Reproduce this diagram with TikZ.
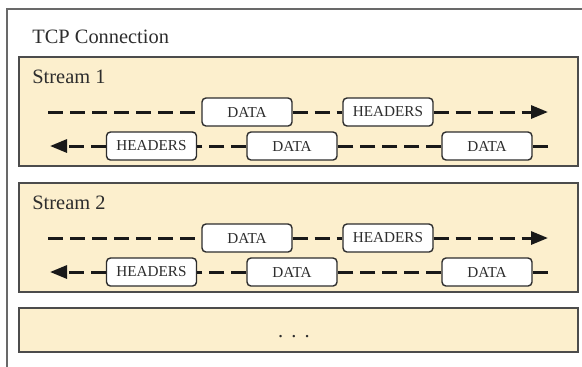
\documentclass[tikz,border=0pt]{standalone}
\usepackage{fontspec}
\setmainfont{Liberation Serif}
\usetikzlibrary{arrows.meta}

\definecolor{streamfill}{RGB}{252,239,205}
\definecolor{framegray}{RGB}{105,105,105}
\definecolor{inkgray}{RGB}{45,45,45}

\tikzstyle{frame}=[draw=framegray,line width=1pt]
\tikzstyle{stream}=[draw=inkgray!85,line width=0.8pt,fill=streamfill,rectangle,minimum width=279.5pt,inner sep=0pt]
\tikzstyle{packet}=[draw=inkgray,line width=0.7pt,fill=white,rounded corners=2pt,minimum width=45pt,minimum height=14pt,inner sep=0pt,font=\fontsize{7.6}{9}\selectfont,text=inkgray]
\tikzstyle{flow}=[draw=black!90,line width=1.5pt,dash pattern=on 7.5pt off 3.5pt]
\tikzstyle{title}=[font=\fontsize{10.2}{12}\selectfont,text=inkgray,anchor=base west,inner sep=0pt]
\tikzstyle{tip}=[-{Triangle[length=8.5pt,width=6.5pt]}]
\newcommand{\pxscale}{0.5pt}

\begin{document}
\begin{tikzpicture}[x=\pxscale, y=-\pxscale]
    \clip (0,0) rectangle (582,366);
    \draw[frame] (7,9) rectangle (600,380);
    \node[title] (conn) at (32,43) {TCP Connection};
    % First we draw the two streams, one below the other
    \foreach \s/\dy in {1/0, 2/126} {
        \node[stream, minimum height=54.5pt] (box\s) at (298.5,111.5+\dy) {};
        \node[title] (lbl\s) at (32,83+\dy) {Stream \s};
        % upper row, left to right
        \coordinate (in\s) at (48,112+\dy);
        \node[packet] (da\s) at (247,112+\dy) {DATA};
        \node[packet] (ha\s) at (388,112+\dy) {HEADERS};
        \coordinate (out\s) at (548,112+\dy);
        % lower row, right to left
        \coordinate (start\s) at (548,146+\dy);
        \node[packet] (dc\s) at (487,146+\dy) {DATA};
        \node[packet] (db\s) at (292,146+\dy) {DATA};
        \node[packet] (hb\s) at (151.5,146+\dy) {HEADERS};
        \coordinate (back\s) at (50,146+\dy);
        % Connect the frames with dashed lines
        \path[flow] (in\s) -- (da\s) (da\s) -- (ha\s);
        \draw[flow, tip] (ha\s) -- (out\s);
        \path[flow] (start\s) -- (dc\s) (dc\s) -- (db\s) (db\s) -- (hb\s);
        \draw[flow, tip] (hb\s) -- (back\s);
    }
    % the remaining streams
    \node[stream, minimum height=22pt] (more) at (298.5,330) {};
    \node[title, anchor=base] (dots) at (294,337) {.\hspace{0.4em}.\hspace{0.4em}.};
\end{tikzpicture}
\end{document}
